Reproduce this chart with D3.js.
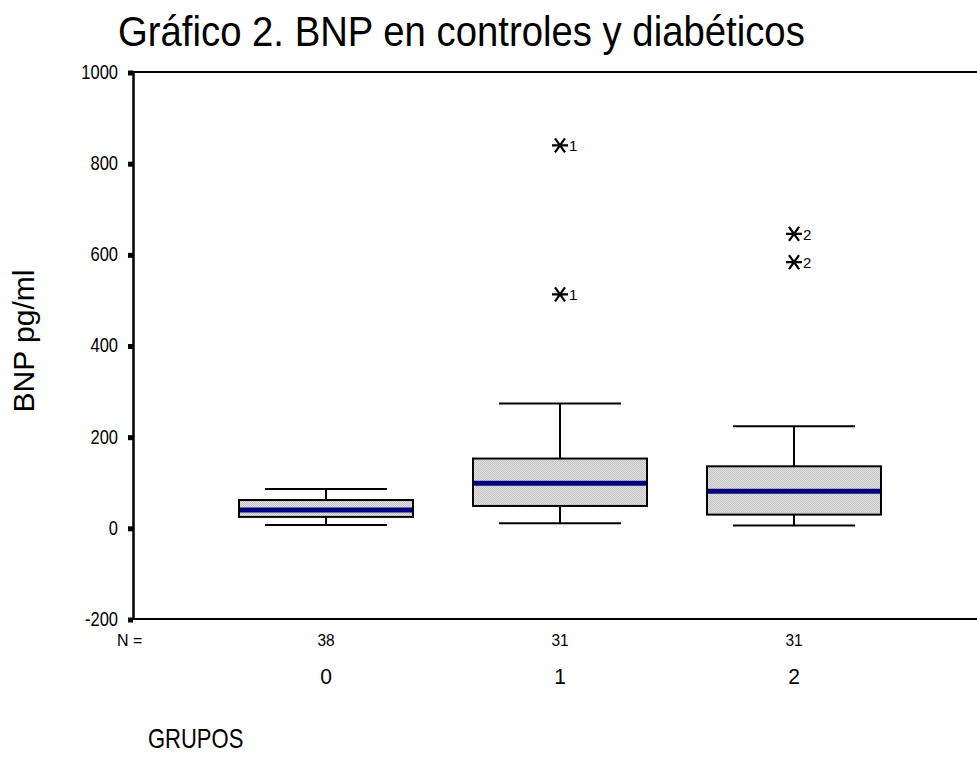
<!DOCTYPE html>
<html>
<head>
<meta charset="utf-8">
<script src="https://cdn.jsdelivr.net/npm/d3@7"></script>
<style>
  body { margin: 0; background: #fff; }
  text { font-family: "Liberation Sans", Arial, sans-serif; fill: #000; }
</style>
</head>
<body>
<div id="chart"></div>
<script>
// datos
const groups = ["0", "1", "2"];
const nCounts = [38, 31, 31];
const whiskerLow = [6, 10, 5];
const q1 = [24, 48, 29];
const median = [39, 98, 80];
const q3 = [61, 152, 135];
const whiskerHigh = [85, 273, 223];
const outlierValues = [[], [839, 512], [645, 583]];
const outlierLabels = [[], ["1", "1"], ["2", "2"]];
const yTicks = [-200, 0, 200, 400, 600, 800, 1000];

const width = 977, height = 759;
const svg = d3.select("#chart").append("svg").attr("width", width).attr("height", height);

// texto con un poco de estiramiento vertical, como en la imagen original
function label(x, y, size, str, anchor, sy) {
  return svg.append("text")
    .attr("transform", `translate(${x},${y}) scale(1,${sy || 1})`)
    .attr("text-anchor", anchor || "start")
    .style("font-size", size + "px")
    .text(str);
}

const defs = svg.append("defs");
const pat = defs.append("pattern")
  .attr("id", "dots").attr("width", 2).attr("height", 2)
  .attr("patternUnits", "userSpaceOnUse");
pat.append("rect").attr("width", 2).attr("height", 2).attr("fill", "#e0e0e0");
pat.append("rect").attr("width", 1).attr("height", 1).attr("fill", "#c4c4c4");
pat.append("rect").attr("x", 1).attr("y", 1).attr("width", 1).attr("height", 1).attr("fill", "#c4c4c4");

const plotLeft = 133, plotRight = 977, plotTop = 72, plotBottom = 619;

const y = d3.scaleLinear().domain([-200, 1000]).range([plotBottom, plotTop]);
const x = d3.scalePoint().domain(groups).range([326, 794]);

const boxW = 174, capW = 122;

// título
label(118, 46, 38.3, "Gráfico 2. BNP en controles y diabéticos", "start", 1.12);

// marco
svg.append("line").attr("x1", plotLeft).attr("x2", plotRight).attr("y1", plotTop).attr("y2", plotTop)
  .attr("stroke", "#000").attr("stroke-width", 2);
svg.append("line").attr("x1", plotLeft).attr("x2", plotRight).attr("y1", plotBottom).attr("y2", plotBottom)
  .attr("stroke", "#000").attr("stroke-width", 2);

// eje Y
const yAxis = svg.append("g").attr("transform", `translate(${plotLeft},0)`)
  .call(d3.axisLeft(y).tickValues(yTicks).tickFormat(d => String(d)).tickSize(0).tickPadding(15));
yAxis.select(".domain").attr("stroke", "#000").attr("stroke-width", 2.5);
yAxis.selectAll(".tick text")
  .style("font-size", "16.5px")
  .style("font-family", "Liberation Sans, Arial, sans-serif")
  .attr("transform", "scale(1,1.22)");
yAxis.selectAll(".tick").append("rect")
  .attr("x", -5).attr("y", -2).attr("width", 5).attr("height", 5).attr("fill", "#000");

svg.append("text")
  .attr("transform", `translate(34,341) rotate(-90)`)
  .attr("text-anchor", "middle").style("font-size", "30px").text("BNP pg/ml");

// cajas
groups.forEach((g, i) => {
  const cx = x(g);
  const gg = svg.append("g");
  // bigotes
  gg.append("line").attr("x1", cx).attr("x2", cx).attr("y1", y(whiskerHigh[i])).attr("y2", y(q3[i]))
    .attr("stroke", "#000").attr("stroke-width", 2);
  gg.append("line").attr("x1", cx).attr("x2", cx).attr("y1", y(q1[i])).attr("y2", y(whiskerLow[i]))
    .attr("stroke", "#000").attr("stroke-width", 2);
  [whiskerHigh[i], whiskerLow[i]].forEach(v => {
    gg.append("line").attr("x1", cx - capW / 2).attr("x2", cx + capW / 2).attr("y1", y(v)).attr("y2", y(v))
      .attr("stroke", "#000").attr("stroke-width", 2);
  });
  gg.append("rect").attr("x", cx - boxW / 2).attr("y", y(q3[i]))
    .attr("width", boxW).attr("height", y(q1[i]) - y(q3[i]))
    .attr("fill", "url(#dots)").attr("stroke", "#000").attr("stroke-width", 2);
  gg.append("line").attr("x1", cx - boxW / 2 + 1).attr("x2", cx + boxW / 2 - 1)
    .attr("y1", y(median[i])).attr("y2", y(median[i]))
    .attr("stroke", "#000080").attr("stroke-width", 5);

  // atípicos
  outlierValues[i].forEach((v, k) => {
    const oy = y(v);
    const s = gg.append("g").attr("transform", `translate(${cx},${oy})`);
    s.append("path").attr("d", "M-8,0H8M-5,-7L5,7M-5,7L5,-7")
      .attr("stroke", "#000").attr("stroke-width", 2.2).attr("fill", "none");
    s.append("text").attr("x", 9).attr("y", 6).style("font-size", "15px").text(outlierLabels[i][k]);
  });

  // N y etiqueta de grupo
  label(cx, 646, 15.5, nCounts[i], "middle", 1.05);
  label(cx, 684, 21, g, "middle", 1.05);
});

label(117, 646, 16, "N =", "start", 1.05);
label(148, 748, 22, "GRUPOS", "start", 1.25);
</script>
</body>
</html>
